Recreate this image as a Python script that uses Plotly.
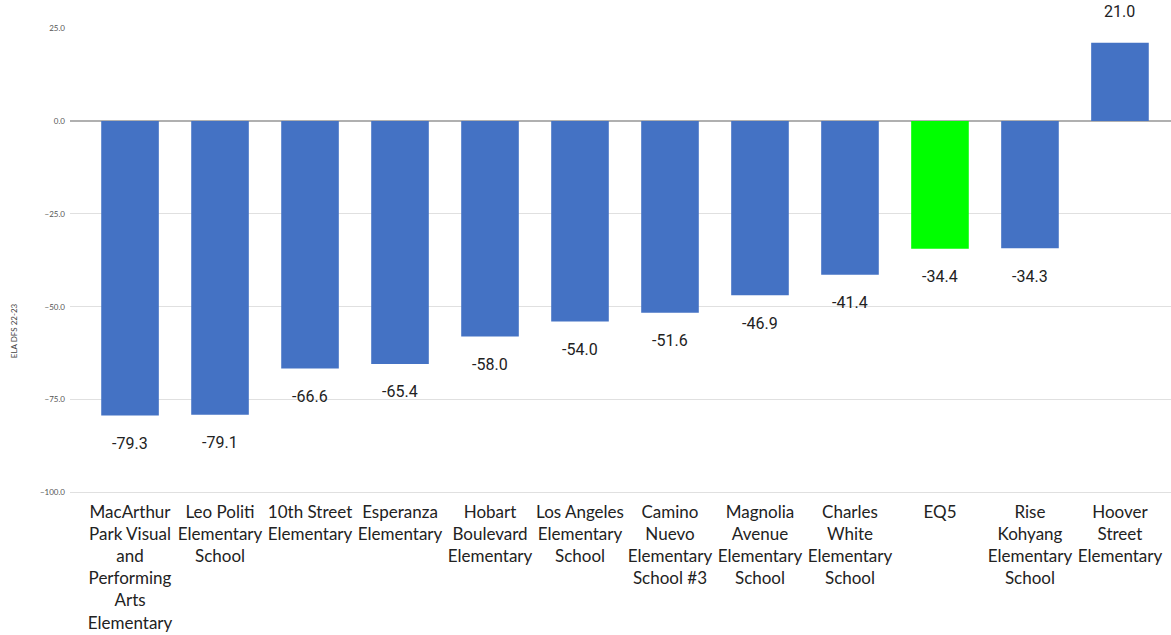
import plotly.graph_objects as go

categories = [
    "MacArthur<br>Park Visual<br>and<br>Performing<br>Arts<br>Elementary",
    "Leo Politi<br>Elementary<br>School",
    "10th Street<br>Elementary",
    "Esperanza<br>Elementary",
    "Hobart<br>Boulevard<br>Elementary",
    "Los Angeles<br>Elementary<br>School",
    "Camino<br>Nuevo<br>Elementary<br>School #3",
    "Magnolia<br>Avenue<br>Elementary<br>School",
    "Charles<br>White<br>Elementary<br>School",
    "EQ5",
    "Rise<br>Kohyang<br>Elementary<br>School",
    "Hoover<br>Street<br>Elementary",
]
values = [-79.3, -79.1, -66.6, -65.4, -58.0, -54.0, -51.6, -46.9, -41.4, -34.4, -34.3, 21.0]
highlight = "EQ5"
y_ticks = [25, 0, -25, -50, -75, -100]
y_title = "ELA DFS 22-23"

BLUE = "#4472C4"
GREEN = "#00FF00"
colors = [GREEN if c == highlight else BLUE for c in categories]

fig = go.Figure(go.Bar(
    x=list(range(len(categories))),
    y=values,
    marker=dict(color=colors, line=dict(width=0)),
    width=0.64,
    hoverinfo="skip",
))

annotations = []
for i, v in enumerate(values):
    annotations.append(dict(
        x=i, y=v, xref="x", yref="y",
        text=f"{v:.1f}", showarrow=False,
        yanchor="middle",
        yshift=-28 if v < 0 else 31,
        font=dict(family="Roboto", size=16, color="#222222"),
    ))
annotations.append(dict(
    x=-0.057, y=0.35, xref="paper", yref="paper",
    text=y_title, textangle=-90, showarrow=False,
    font=dict(family="Lato", size=8, color="#444444"),
))

fig.update_layout(
    width=1171, height=635,
    margin=dict(l=70, r=0, t=28, b=141),
    paper_bgcolor="white", plot_bgcolor="white",
    showlegend=False,
    annotations=annotations,
    xaxis=dict(
        tickmode="array",
        tickvals=list(range(len(categories))),
        ticktext=categories,
        range=[-0.667, 11.567],
        showgrid=False, zeroline=False, showline=False,
        ticks="",
        ticklabelstandoff=6,
        tickfont=dict(family="Lato", size=17, color="#222222"),
    ),
    yaxis=dict(
        range=[-100.4, 25],
        tickmode="array",
        tickvals=y_ticks,
        tickformat=".1f",
        showgrid=True, gridcolor="#e0e0e0", gridwidth=1,
        zeroline=True, zerolinecolor="#b0b0b0", zerolinewidth=2,
        showline=False, ticks="",
        ticklabelstandoff=4,
        tickfont=dict(family="Lato", size=8, color="#555555"),
    ),
)

fig.write_html("out.html")
